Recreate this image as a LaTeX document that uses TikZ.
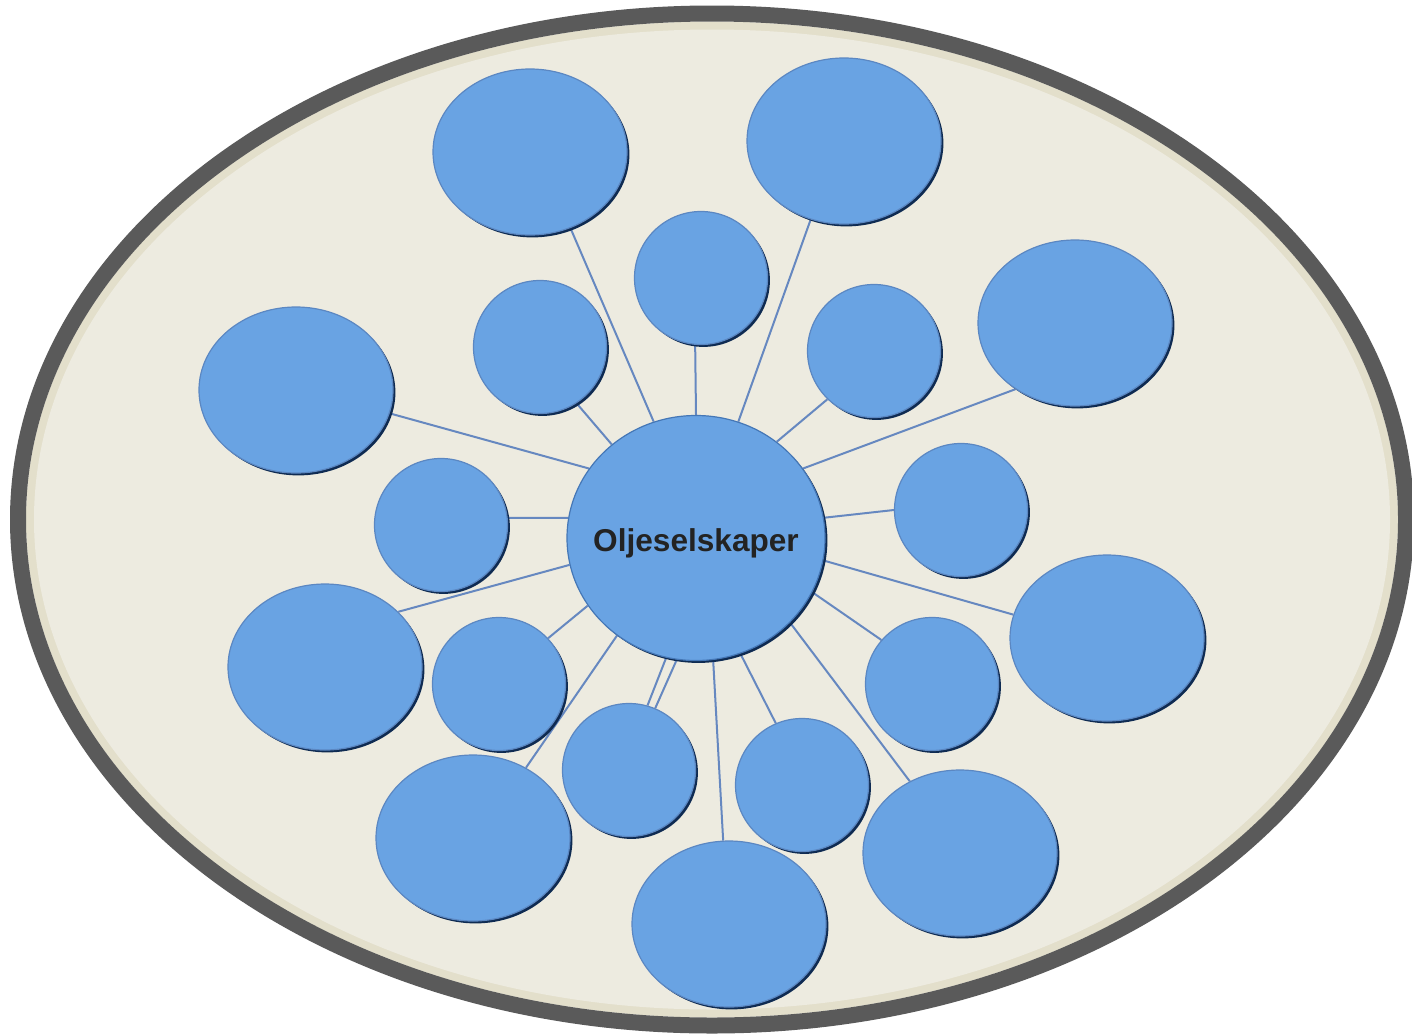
\documentclass[tikz,border=0pt]{standalone}
\usepackage{fontspec}
\setmainfont{Liberation Sans}
\usetikzlibrary{shapes.geometric,shadows,backgrounds}

\definecolor{paper}{HTML}{EDEBE0}
\definecolor{band}{HTML}{E3DFCB}
\definecolor{rim}{HTML}{5A5A5A}
\definecolor{bubble}{HTML}{69A3E3}
\definecolor{bubbleline}{HTML}{5B87C2}
\definecolor{bubbleshade}{HTML}{0F2B52}
\definecolor{hubline}{HTML}{4577B6}
\definecolor{linkcol}{HTML}{6688C0}
\definecolor{labeltext}{HTML}{232323}

\begin{document}
\begin{tikzpicture}[x=0.5pt,y=-0.5pt]
\tikzset{
% Bubble styles: big ones on the outer ring, small ones on the inner ring
bubble node/.style={ellipse,inner sep=0,fill=bubble,draw=bubbleline,line width=0.6pt,
  general shadow={fill=bubbleshade,shadow xshift=1.2pt,shadow yshift=-1.2pt}},
big node/.style={bubble node,minimum width=97pt,minimum height=83pt},
small node/.style={bubble node,minimum width=66.5pt,minimum height=66.5pt},
hub node/.style={bubble node,draw=hubline,minimum width=129pt,minimum height=122.5pt,
  text=labeltext,font=\fontsize{15.8pt}{19pt}\selectfont\bfseries},
link/.style={draw=linkcol,line width=1pt}
}
\useasboundingbox (0,0) rectangle (1412,1033);

% The hub (label boxed to zero size so the circle keeps its size)
\node (hub) [hub node] at (696,538) {\raisebox{-6.6pt}[0pt][0pt]{\makebox[0pt]{Oljeselskaper}}};

% Outer ring, clockwise from top left
\node (big1) [big node] at (530,152) {};
\node (big2) [big node] at (844,141) {};
\node (big3) [big node] at (1075,323) {};
\node (big4) [big node] at (1107,638) {};
\node (big5) [big node] at (960,853) {};
\node (big6) [big node] at (729,924) {};
\node (big7) [big node] at (473,838) {};
\node (big8) [big node] at (325,667) {};
\node (big9) [big node] at (296,390) {};

% Inner ring, clockwise from top
\node (small1) [small node] at (701,278) {};
\node (small2) [small node] at (874,351) {};
\node (small3) [small node] at (961,510) {};
\node (small4) [small node] at (932,684) {};
\node (small5) [small node] at (802,785) {};
\node (small6) [small node] at (629,770) {};
\node (small7) [small node] at (499,684) {};
\node (small8) [small node] at (441,525) {};
\node (small9) [small node] at (540,347) {};

\begin{scope}[on background layer]
\fill[white] (0,0) rectangle (1412,1033);
% The frame
\fill[band] (712,519.5) ellipse [x radius=686, y radius=498];
\fill[paper] (712,519.5) ellipse [x radius=678, y radius=490];
\draw[rim,line width=8pt] (712,519.5) ellipse [x radius=694, y radius=506];
% Spokes from the hub
\foreach \a/\n/\b in {110/big1/298, 90/small1/265, 70/big2/247, 132/small9/303,
  50/small2/226, 33/big3/228, 9/small3/180, 350/big4/166, 335/small4/139,
  318/big5/125, 291/small5/113, 278/big6/94, 256/small6/74, 261/small6/67,
  231/big7/53, 212/small7/43, 192/big8/37, 171/small8/6, 147/big9/346}
  \draw[link] (hub.\a) -- (\n.\b);
\end{scope}
\end{tikzpicture}
\end{document}
